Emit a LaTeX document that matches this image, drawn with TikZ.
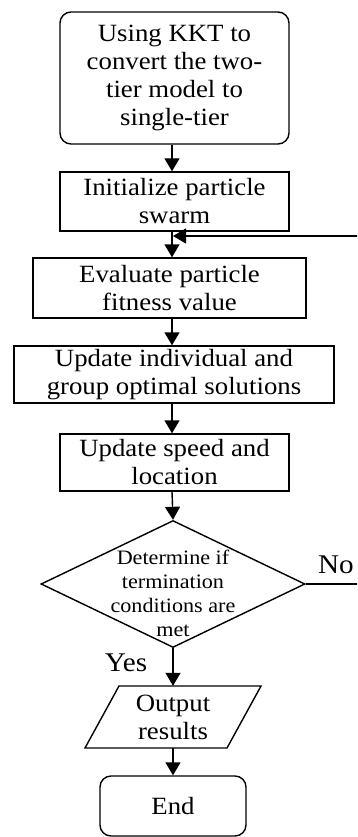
\documentclass[tikz,border=0pt]{standalone}
\usepackage{fontspec}
\setmainfont{Liberation Serif}[FakeStretch=1.08]
\usetikzlibrary{arrows.meta,shapes.geometric}
\begin{document}
\begin{tikzpicture}[x=1pt,y=-1pt,
  base/.style={draw,line width=1.4pt,inner sep=0pt,align=center,font=\fontsize{24.8}{28}\selectfont},
  procbox/.style={base,rectangle},
  termbox/.style={base,rectangle,rounded corners=11pt},
  arr/.style={line width=1.4pt,-{Triangle[length=13pt,width=15pt]}},
  lbl/.style={font=\fontsize{27}{30}\selectfont,inner sep=0pt}]
\useasboundingbox (0,0) rectangle (357,837);
\coordinate (axis) at (172,0);
\node[termbox,minimum width=229pt,minimum height=132pt] (b1) at (174.5,78) {Using KKT to\\convert the two-\\tier model to\\single-tier};
\node[procbox,minimum width=229pt,minimum height=59pt] (b2) at (174.5,201.5) {Initialize particle\\swarm};
\node[procbox,minimum width=273pt,minimum height=60pt] (b3) at (169.5,288) {Evaluate particle\\fitness value};
\node[procbox,minimum width=320pt,minimum height=57pt] (b4) at (174,374.5) {Update individual and\\group optimal solutions};
\node[procbox,minimum width=229pt,minimum height=57pt] (b5) at (174.5,462.5) {Update speed and\\location};
\node[draw,diamond,line width=1.4pt,minimum width=264pt,minimum height=127pt,inner sep=0pt] (dia) at (173,584) {};
\node[align=center,inner sep=0pt,font=\fontsize{20.5}{24}\selectfont] (diat) at (173,593) {Determine if\\termination\\conditions are\\met};
\draw[line width=1.4pt] (119,686) -- (261,686) -- (227,748) -- (85,748) -- cycle;
\node[align=center,inner sep=0pt,minimum height=62pt,font=\fontsize{24.8}{28}\selectfont] (out) at (173,717) {Output\\results};
\node[termbox,minimum width=146pt,minimum height=60pt] (e) at (173,806) {End};
\node[lbl] (yes) at (126,663) {Yes};
\node[lbl] (no) at (336,565) {No};
\coordinate (merge) at (173,236);
\coordinate (loopA) at (370,584);
\coordinate (loopB) at (370,236);
\draw[arr] (b1.south -| axis) -- (b2.north -| axis);
\draw[arr] (b2.south -| axis) -- (b3.north -| axis);
\draw[arr] (b3.south -| axis) -- (b4.north -| axis);
\draw[arr] (b4.south -| axis) -- (b5.north -| axis);
\draw[arr] (b5.south -| axis) -- (dia.north);
\draw[arr] (dia.south) -- (out.north);
\draw[arr] (out.south) -- (e);
\begin{scope}
\clip (0,0) rectangle (357,837);
\draw[arr] (dia.east) -- (loopA) -- (loopB) -- (merge);
\end{scope}
\end{tikzpicture}
\end{document}
